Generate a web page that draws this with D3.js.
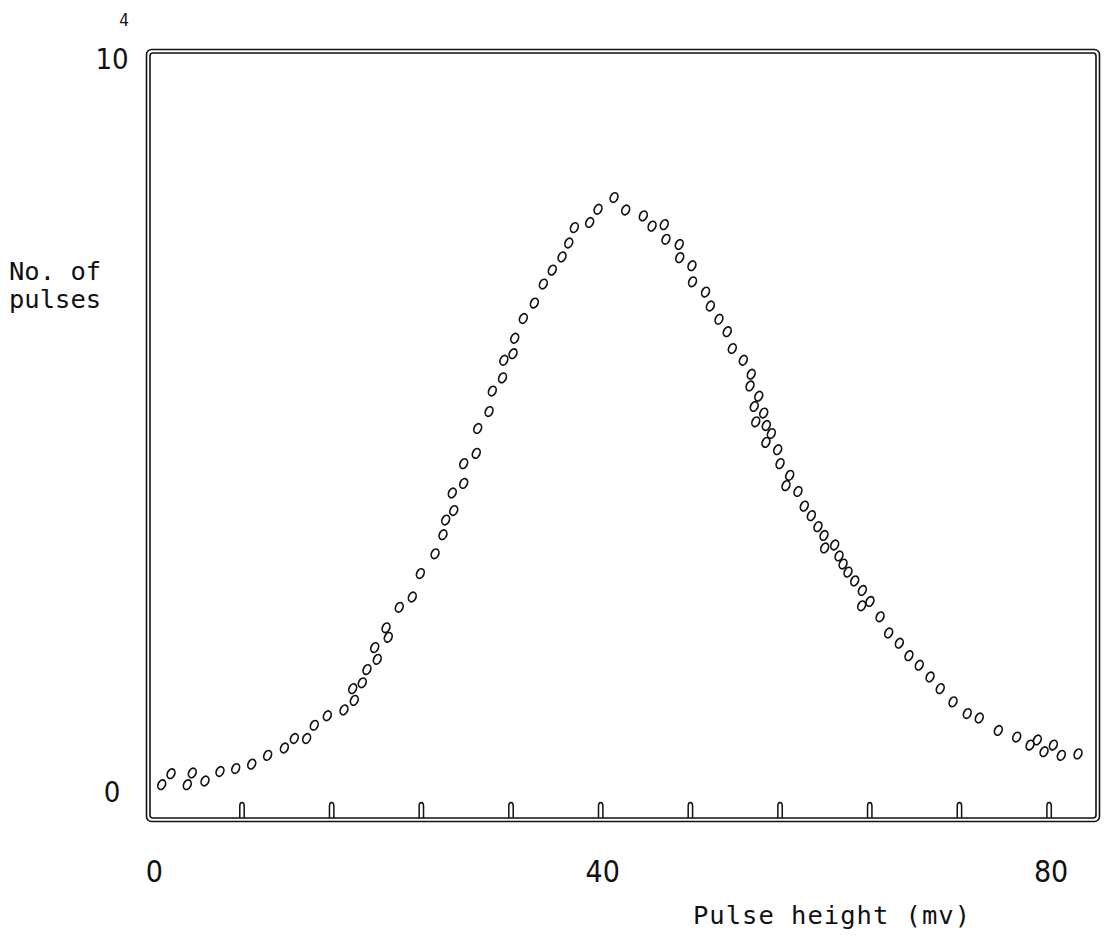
<!DOCTYPE html>
<html>

<head>
    <meta http-equiv="Content-Type" content="text/html;charset=utf-8" />
    <style>
        body {
            margin: 0;
            background: #fff;
        }

        .frame {
            fill: none;
            stroke: #111;
            stroke-width: 1.6px;
        }

        .pt {
            fill: none;
            stroke: #111;
            stroke-width: 1.7px;
        }

        .tick-mark {
            fill: none;
            stroke: #111;
            stroke-width: 1.5px;
        }

        .num {
            font-family: "Liberation Sans Narrow", "DejaVu Sans Condensed", "Liberation Sans", sans-serif;
            font-stretch: condensed;
            fill: #111;
        }

        .lbl {
            font-family: "DejaVu Sans Mono", "Liberation Mono", monospace;
            fill: #111;
        }
    </style>
</head>

<body>
    <svg width="1108" height="947"></svg>

    <script src="https://cdnjs.cloudflare.com/ajax/libs/d3/7.8.5/d3.min.js"></script>
    <script>
        // pulse height (mv) / number of pulses (x 10^4)
        var pulseHeight = [0.84, 1.67, 3.12, 3.57, 4.70, 6.04, 7.44, 8.87, 10.29, 11.78,
            12.67, 13.77, 14.45, 15.61, 17.10, 17.88, 18.02, 18.73, 19.15, 19.84,
            20.07, 20.85, 21.05, 22.03, 23.19, 23.91, 25.22, 25.93, 26.17, 26.76,
            26.89, 27.78, 27.78, 28.90, 29.03, 30.04, 30.33, 31.24, 31.36, 32.18,
            32.33, 33.10, 34.08, 34.88, 35.68, 36.55, 37.15, 37.65, 39.02, 39.76,
            41.19, 42.23, 43.80, 44.58, 45.67, 45.82, 47.01, 47.05, 48.14, 48.19,
            49.35, 49.78, 50.55, 51.29, 51.74, 52.72, 53.43, 53.32, 54.10, 53.70,
            54.54, 53.83, 54.77, 55.22, 54.74, 55.79, 56.00, 56.86, 56.53, 57.60,
            58.16, 58.79, 59.38, 59.92, 59.98, 60.87, 61.26, 61.62, 62.06, 62.66,
            63.34, 63.28, 64.02, 64.92, 65.69, 66.64, 67.50, 68.42, 69.38, 70.29,
            71.43, 72.70, 73.77, 75.47, 77.11, 78.30, 78.95, 79.55, 80.38, 81.09,
            82.58];

        var pulseCount = [0.10, 0.25, 0.10, 0.26, 0.15, 0.28, 0.32, 0.38, 0.50, 0.60,
            0.73, 0.73, 0.91, 1.04, 1.12, 1.41, 1.25, 1.49, 1.67, 1.97,
            1.81, 2.24, 2.11, 2.52, 2.66, 2.98, 3.25, 3.51, 3.71, 4.08,
            3.84, 4.48, 4.21, 4.62, 4.96, 5.19, 5.47, 5.65, 5.89, 5.98,
            6.19, 6.46, 6.67, 6.93, 7.12, 7.30, 7.49, 7.70, 7.77, 7.95,
            8.11, 7.94, 7.86, 7.72, 7.74, 7.54, 7.47, 7.29, 7.18, 6.96,
            6.82, 6.63, 6.45, 6.28, 6.05, 5.89, 5.70, 5.54, 5.40, 5.26,
            5.17, 5.05, 5.00, 4.89, 4.77, 4.67, 4.48, 4.32, 4.18, 4.10,
            3.90, 3.77, 3.62, 3.50, 3.33, 3.37, 3.22, 3.11, 3.00, 2.88,
            2.75, 2.54, 2.60, 2.39, 2.17, 2.03, 1.86, 1.73, 1.57, 1.41,
            1.23, 1.07, 1.01, 0.84, 0.75, 0.64, 0.71, 0.55, 0.64, 0.50,
            0.52];

        var xTickMarks = [8, 16, 24, 32, 40, 48, 56, 64, 72, 80];
        var xTickLabels = [0, 40, 80];
        var yTickLabels = [0, 10];

        var svg = d3.select("svg");

        // inner edge of the plot frame
        var frame = { left: 150, top: 53, right: 1096, bottom: 818 };

        var x = d3.scaleLinear().domain([0, 80]).range([152.3, 1049.1]),
            y = d3.scaleLinear().domain([0, 10]).range([792, 59]);

        // double-lined frame, as on the plotter original
        svg.append("rect")
            .attr("class", "frame")
            .attr("x", frame.left - 3.5)
            .attr("y", frame.top - 3.5)
            .attr("width", frame.right - frame.left + 7)
            .attr("height", frame.bottom - frame.top + 7)
            .attr("rx", 5);

        svg.append("rect")
            .attr("class", "frame")
            .attr("x", frame.left)
            .attr("y", frame.top)
            .attr("width", frame.right - frame.left)
            .attr("height", frame.bottom - frame.top)
            .attr("rx", 3);

        // little bumps along the bottom edge
        svg.append("g").selectAll("path")
            .data(xTickMarks)
            .enter().append("path")
            .attr("class", "tick-mark")
            .attr("d", function (d) {
                var cx = x(d), b = frame.bottom;
                return "M" + (cx - 2.2) + "," + b +
                    "V" + (b - 12) +
                    "Q" + (cx - 2.2) + "," + (b - 15.5) + " " + cx + "," + (b - 15.5) +
                    "Q" + (cx + 2.2) + "," + (b - 15.5) + " " + (cx + 2.2) + "," + (b - 12) +
                    "V" + b;
            });

        svg.append("g").selectAll("text")
            .data(xTickLabels)
            .enter().append("text")
            .attr("class", "num")
            .attr("x", function (d) { return x(d) + 2; })
            .attr("y", 882)
            .attr("text-anchor", "middle")
            .style("font-size", "30px")
            .text(function (d) { return d; });

        svg.append("g").selectAll("text")
            .data(yTickLabels)
            .enter().append("text")
            .attr("class", "num")
            .attr("x", 112)
            .attr("y", function (d) { return y(d); })
            .attr("dy", "0.36em")
            .attr("text-anchor", "middle")
            .style("font-size", "29px")
            .text(function (d) { return d; });

        // exponent mark above the "10"
        svg.append("text")
            .attr("class", "num")
            .attr("x", 124)
            .attr("y", 26)
            .attr("text-anchor", "middle")
            .style("font-size", "17px")
            .text("4");

        var ylab = svg.append("text")
            .attr("class", "lbl")
            .attr("x", 9)
            .attr("y", 280)
            .style("font-size", "25.5px");
        ylab.append("tspan").attr("x", 9).text("No. of");
        ylab.append("tspan").attr("x", 9).attr("dy", 28).text("pulses");

        svg.append("text")
            .attr("class", "lbl")
            .attr("x", 693)
            .attr("y", 924)
            .style("font-size", "25.5px")
            .style("letter-spacing", "1px")
            .text("Pulse height (mv)");

        var points = pulseHeight.map(function (h, i) {
            return { h: h, n: pulseCount[i] };
        });

        svg.append("g").selectAll("ellipse")
            .data(points)
            .enter().append("ellipse")
            .attr("class", "pt")
            .attr("rx", 3.6)
            .attr("ry", 5)
            .attr("transform", function (d) {
                return "translate(" + x(d.h) + "," + y(d.n) + ") rotate(25)";
            });
    </script>

</body>

</html>
